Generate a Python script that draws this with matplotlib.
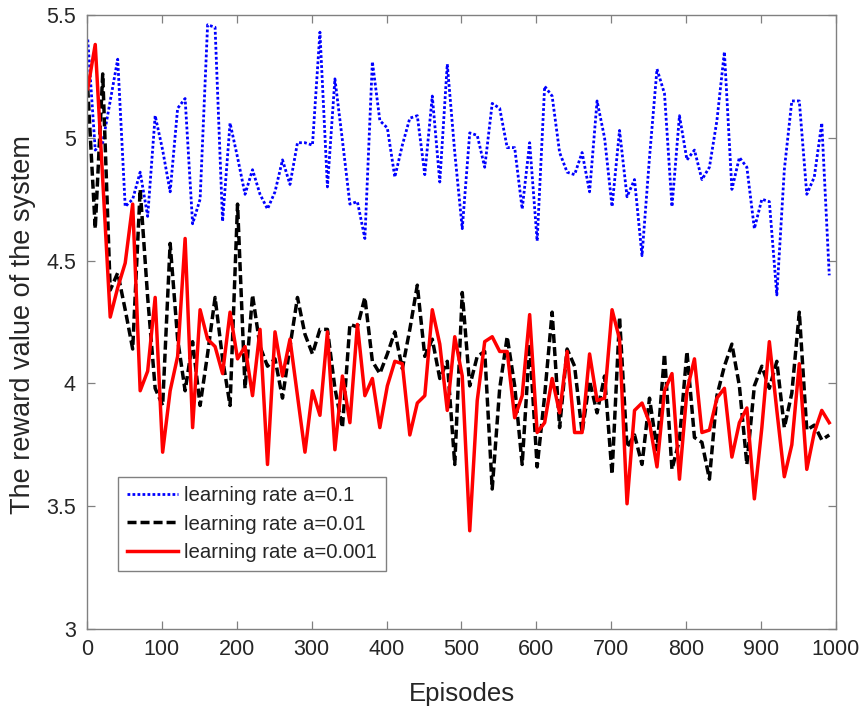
import matplotlib
matplotlib.use("Agg")
import matplotlib.pyplot as plt

plt.rcParams["font.family"] = ["Liberation Sans", "DejaVu Sans"]

# episodes sampled every 10 steps
episodes = list(range(1, 1000, 10))

# learning rate a=0.1 (blue dotted)
reward_01 = [
    5.40, 4.95, 4.98, 5.15, 5.32, 4.72, 4.75, 4.86, 4.68, 5.09,
    4.95, 4.78, 5.12, 5.16, 4.65, 4.75, 5.46, 5.45, 4.66, 5.06,
    4.92, 4.77, 4.87, 4.77, 4.71, 4.78, 4.91, 4.81, 4.98, 4.98,
    4.97, 5.43, 4.80, 5.24, 4.99, 4.73, 4.74, 4.59, 5.31, 5.07,
    5.04, 4.84, 4.97, 5.08, 5.09, 4.85, 5.17, 4.82, 5.30, 4.94,
    4.63, 5.02, 5.01, 4.88, 5.14, 5.12, 4.96, 4.96, 4.71, 4.98,
    4.58, 5.21, 5.17, 4.94, 4.86, 4.85, 4.94, 4.78, 5.15, 5.00,
    4.72, 5.03, 4.76, 4.83, 4.52, 4.92, 5.28, 5.18, 4.72, 5.09,
    4.91, 4.95, 4.83, 4.88, 5.07, 5.35, 4.79, 4.92, 4.88, 4.63,
    4.75, 4.74, 4.36, 4.87, 5.15, 5.15, 4.77, 4.84, 5.06, 4.44,
]

# learning rate a=0.01 (black dashed)
reward_001 = [
    5.20, 4.63, 5.26, 4.38, 4.45, 4.30, 4.14, 4.79, 4.35, 3.98,
    3.91, 4.57, 4.18, 3.97, 4.17, 3.91, 4.12, 4.35, 4.10, 3.91,
    4.73, 3.98, 4.36, 4.15, 4.07, 4.10, 3.94, 4.15, 4.35, 4.20,
    4.12, 4.22, 4.22, 3.98, 3.82, 4.24, 4.23, 4.35, 4.09, 4.04,
    4.12, 4.21, 4.06, 4.22, 4.40, 4.11, 4.18, 4.02, 4.09, 3.67,
    4.37, 3.99, 4.11, 4.13, 3.57, 3.98, 4.19, 3.99, 3.67, 4.16,
    3.66, 3.95, 4.29, 3.82, 4.14, 4.07, 3.80, 4.01, 3.88, 4.03,
    3.63, 4.27, 3.74, 3.79, 3.67, 3.94, 3.73, 4.12, 3.65, 3.77,
    4.13, 3.78, 3.76, 3.61, 3.95, 4.07, 4.16, 3.99, 3.67, 3.99,
    4.07, 3.98, 4.09, 3.82, 3.96, 4.29, 3.81, 3.83, 3.77, 3.79,
]

# learning rate a=0.001 (red solid)
reward_0001 = [
    5.20, 5.38, 4.83, 4.27, 4.39, 4.49, 4.73, 3.97, 4.05, 4.35,
    3.72, 3.97, 4.11, 4.59, 3.82, 4.30, 4.18, 4.15, 4.04, 4.29,
    4.10, 4.15, 3.95, 4.22, 3.67, 4.21, 4.03, 4.18, 3.95, 3.72,
    3.97, 3.87, 4.21, 3.73, 4.03, 3.84, 4.24, 3.95, 4.02, 3.82,
    3.99, 4.09, 4.08, 3.79, 3.92, 3.95, 4.30, 4.16, 3.89, 4.19,
    4.03, 3.40, 3.93, 4.17, 4.19, 4.13, 4.13, 3.86, 3.95, 4.28,
    3.80, 3.84, 4.02, 3.88, 4.13, 3.80, 3.80, 4.12, 3.93, 3.94,
    4.30, 4.18, 3.51, 3.89, 3.92, 3.84, 3.66, 3.97, 4.04, 3.61,
    3.97, 4.10, 3.80, 3.81, 3.94, 3.98, 3.70, 3.84, 3.90, 3.53,
    3.82, 4.17, 3.89, 3.62, 3.75, 4.08, 3.65, 3.80, 3.89, 3.84,
]

labels = ["learning rate a=0.1", "learning rate a=0.01", "learning rate a=0.001"]
xticks = list(range(0, 1001, 100))
yticks = [3, 3.5, 4, 4.5, 5, 5.5]
ytick_labels = ["3", "3.5", "4", "4.5", "5", "5.5"]

fig = plt.figure(figsize=(8.62, 7.07), dpi=100)
ax = fig.add_axes([87 / 862, 78 / 707, 749 / 862, 614 / 707])

ax.plot(episodes, reward_01, color="#0000ff", lw=2.0, dashes=(1, 0.8), label=labels[0])
ax.plot(episodes, reward_001, color="black", lw=2.5, dashes=(2.6, 1.15), label=labels[1])
ax.plot(episodes, reward_0001, color="#ff0000", lw=2.5, label=labels[2])

ax.set_xlim(0, 1000)
ax.set_ylim(3, 5.5)
ax.set_xticks(xticks)
ax.set_yticks(yticks)
ax.set_yticklabels(ytick_labels)
ax.tick_params(direction="in", length=5.5, width=0.9, color="#808080",
               labelsize=15.5, labelcolor="#262626", top=True, right=True)
ax.tick_params(axis="x", pad=7)
ax.tick_params(axis="y", pad=8)
for s in ax.spines.values():
    s.set_color("#808080")
    s.set_linewidth(1.0)

fig.text(23 / 862, 1 - 325 / 707, "The reward value of the system", rotation=90,
         ha="center", va="center", fontsize=19.5, color="#262626")
fig.text(461.5 / 862, 1 - 694 / 707, "Episodes", ha="center", va="center",
         fontsize=18.5, color="#262626")

leg = ax.legend(loc="upper left", bbox_to_anchor=(0.041, 0.248), borderaxespad=0,
                fontsize=14.7, handlelength=2.5, handletextpad=0.3, labelspacing=0.47,
                borderpad=0.45, fancybox=False, framealpha=1, edgecolor="#808080")
leg.get_frame().set_linewidth(1.0)
for t in leg.get_texts():
    t.set_color("#262626")

fig.savefig("out.png", dpi=100)
